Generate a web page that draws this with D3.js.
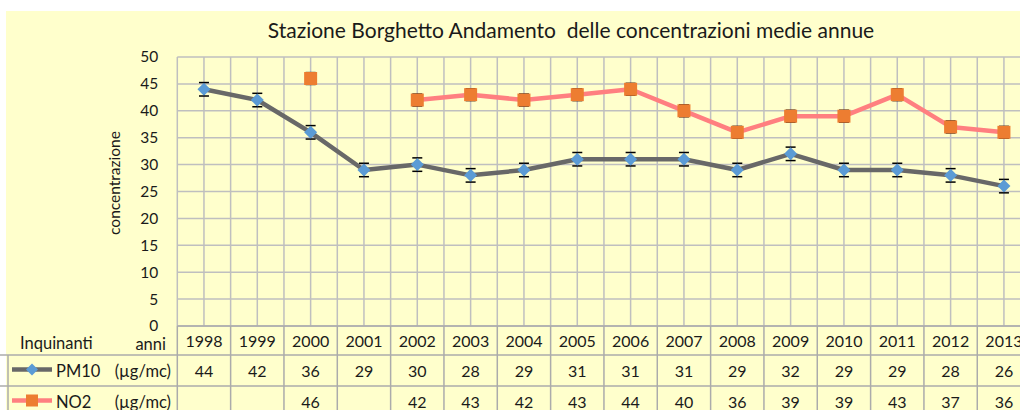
<!DOCTYPE html>
<html>
<head>
<meta charset="utf-8">
<script src="https://cdn.jsdelivr.net/npm/d3@7"></script>
<style>
body{margin:0;padding:0;background:#ffffff;}
svg{display:block;}
</style>
</head>
<body>
<div id="graphHolder"></div>
<script>
var years = ["1998","1999","2000","2001","2002","2003","2004","2005","2006","2007","2008","2009","2010","2011","2012","2013"];
var pm10 = [44,42,36,29,30,28,29,31,31,31,29,32,29,29,28,26];
var no2 = [null,null,46,null,42,43,42,43,44,40,36,39,39,43,37,36];
var pm10Err = 1.25;
var no2Err = 1.1;
var yTicks = [0,5,10,15,20,25,30,35,40,45,50];

var titleText = "Stazione Borghetto Andamento  delle concentrazioni medie annue";
var fontName = "Lato, 'Open Sans', sans-serif";

var W = 1020, H = 410;
var plotLeft = 177.3, plotRight = 1030.6, plotTop = 57, plotBottom = 326;
var rowHeader = 355, row1 = 386, row2 = 417;

var svg = d3.select("#graphHolder").append("svg")
	.attr("width",W)
	.attr("height",H);

svg.append("rect")
	.attr("x",0).attr("y",0).attr("width",W).attr("height",H)
	.style("fill","#ffffff");
svg.append("rect")
	.attr("x",6).attr("y",11).attr("width",W).attr("height",H)
	.style("fill","#FFFFCC");

var xscale = d3.scaleBand()
	.domain(years)
	.range([plotLeft,plotRight]);
var yscale = d3.scaleLinear()
	.domain([0,50])
	.range([plotBottom,plotTop]);
var bw = xscale.bandwidth();

// grid
var gridColor = "#BFBFBF";
svg.append("g").selectAll("line")
	.data(yTicks)
	.enter().append("line")
	.attr("x1",plotLeft).attr("x2",plotRight)
	.attr("y1",function(d){return yscale(d);})
	.attr("y2",function(d){return yscale(d);})
	.style("stroke",gridColor).style("stroke-width",1.5);

var halfs = [];
for (var i=0;i<=years.length*2;i++) halfs.push(i);
svg.append("g").selectAll("line")
	.data(halfs)
	.enter().append("line")
	.attr("x1",function(d){return plotLeft + d*bw/2;})
	.attr("x2",function(d){return plotLeft + d*bw/2;})
	.attr("y1",plotTop)
	.attr("y2",plotBottom)
	.style("stroke",gridColor).style("stroke-width",1.5);

// table lines
var tableColor = "#ABABAB";
var bounds = [];
for (var i=0;i<=years.length;i++) bounds.push(i);
svg.append("g").selectAll("line")
	.data(bounds)
	.enter().append("line")
	.attr("x1",function(d){return plotLeft + d*bw;})
	.attr("x2",function(d){return plotLeft + d*bw;})
	.attr("y1",plotBottom)
	.attr("y2",H)
	.style("stroke",tableColor).style("stroke-width",1.5);
svg.append("line")
	.attr("x1",plotLeft).attr("x2",W).attr("y1",plotBottom).attr("y2",plotBottom)
	.style("stroke",tableColor).style("stroke-width",1.5);
[rowHeader,row1].forEach(function(y){
	svg.append("line")
		.attr("x1",0).attr("x2",W).attr("y1",y).attr("y2",y)
		.style("stroke",tableColor).style("stroke-width",1.5);
});
svg.append("line")
	.attr("x1",8).attr("x2",8).attr("y1",rowHeader).attr("y2",H)
	.style("stroke",tableColor).style("stroke-width",1.5);

// axes
var y_axis = d3.axisLeft(yscale).tickValues(yTicks).tickSize(0).tickPadding(19);
var gy = svg.append("g")
	.attr("transform","translate("+plotLeft+",0)")
	.call(y_axis);
gy.select(".domain").remove();
gy.selectAll("text")
	.style("font-family",fontName)
	.style("font-size","15.5px")
	.style("fill","#1a1a1a");

var x_axis = d3.axisBottom(xscale).tickSize(0).tickPadding(10);
var gx = svg.append("g")
	.attr("transform","translate(0,"+plotBottom+")")
	.call(x_axis);
gx.select(".domain").remove();
gx.selectAll("text")
	.style("font-family",fontName)
	.style("font-size","16px")
	.style("fill","#1a1a1a");

// title & labels
svg.append("text")
	.text(titleText)
	.attr("x",571)
	.attr("y",38)
	.attr("text-anchor","middle")
	.style("font-family",fontName)
	.style("font-size","21px")
	.style("white-space","pre")
	.style("fill","#1a1a1a");

svg.append("text")
	.text("concentrazione")
	.attr("transform","translate(120,183) rotate(-90)")
	.attr("text-anchor","middle")
	.style("font-family",fontName)
	.style("font-size","15.5px")
	.style("fill","#1a1a1a");

svg.append("text").text("Inquinanti")
	.attr("x",20).attr("y",349)
	.style("font-family",fontName).style("font-size","16.5px").style("fill","#1a1a1a");
svg.append("text").text("anni")
	.attr("x",166).attr("y",350).attr("text-anchor","end")
	.style("font-family",fontName).style("font-size","16.5px").style("fill","#1a1a1a");

// series lines
var pmLine = d3.line()
	.x(function(d,i){return xscale(years[i])+bw/2;})
	.y(function(d){return yscale(d);});
var no2Line = d3.line()
	.defined(function(d){return d!=null;})
	.x(function(d,i){return xscale(years[i])+bw/2;})
	.y(function(d){return yscale(d);});

svg.append("path")
	.attr("d",no2Line(no2))
	.style("fill","none")
	.style("stroke","#FF7F80")
	.style("stroke-width",4.5)
	.style("stroke-linejoin","round");
svg.append("path")
	.attr("d",pmLine(pm10))
	.style("fill","none")
	.style("stroke","#686868")
	.style("stroke-width",4.5)
	.style("stroke-linejoin","round");

// error bars
function errBars(vals,err){
	var g = svg.append("g");
	vals.forEach(function(v,i){
		if (v==null) return;
		var cx = xscale(years[i])+bw/2;
		g.append("line")
			.attr("x1",cx).attr("x2",cx)
			.attr("y1",yscale(v+err)).attr("y2",yscale(v-err))
			.style("stroke","#000").style("stroke-width",1);
		[v+err,v-err].forEach(function(e){
			g.append("line")
				.attr("x1",cx-5).attr("x2",cx+5)
				.attr("y1",yscale(e)).attr("y2",yscale(e))
				.style("stroke","#000").style("stroke-width",1.5);
		});
	});
}
errBars(pm10,pm10Err);
errBars(no2,no2Err);

// markers
var diamond = function(cx,cy,r){
	return "M"+cx+","+(cy-r)+"L"+(cx+r)+","+cy+"L"+cx+","+(cy+r)+"L"+(cx-r)+","+cy+"Z";
};
svg.append("g").selectAll("path")
	.data(pm10)
	.enter().append("path")
	.attr("d",function(d,i){return diamond(xscale(years[i])+bw/2,yscale(d),6.5);})
	.style("fill","#5B9BD5");
svg.append("g").selectAll("rect")
	.data(no2.map(function(d,i){return {v:d,y:years[i]};}).filter(function(d){return d.v!=null;}))
	.enter().append("rect")
	.attr("x",function(d){return xscale(d.y)+bw/2-6.5;})
	.attr("y",function(d){return yscale(d.v)-6.5;})
	.attr("width",13).attr("height",13)
	.style("fill","#ED7D31");

// table rows
var rows = [
	{name:"PM10",vals:pm10,cy:(rowHeader+row1)/2,key:"pm"},
	{name:"NO2",vals:no2,cy:(row1+row2)/2,key:"no2"}
];
rows.forEach(function(r){
	var g = svg.append("g");
	g.selectAll("text.val")
		.data(r.vals)
		.enter().append("text")
		.attr("class","val")
		.text(function(d){return d==null ? "" : d;})
		.attr("x",function(d,i){return xscale(years[i])+bw/2;})
		.attr("y",r.cy+6)
		.attr("text-anchor","middle")
		.style("font-family",fontName).style("font-size","16px").style("fill","#1a1a1a");
	g.append("text").text(r.name)
		.attr("x",56).attr("y",r.cy+6)
		.style("font-family",fontName).style("font-size","16.5px").style("fill","#1a1a1a");
	g.append("text").text("(\u00B5g/mc)")
		.attr("x",171).attr("y",r.cy+6).attr("text-anchor","end")
		.style("font-family",fontName).style("font-size","16.5px").style("fill","#1a1a1a");
	if (r.key=="pm"){
		g.append("line").attr("x1",12).attr("x2",52).attr("y1",r.cy-1).attr("y2",r.cy-1)
			.style("stroke","#686868").style("stroke-width",4.5);
		g.append("path").attr("d",diamond(32,r.cy-1,6)).style("fill","#5B9BD5");
	} else {
		g.append("line").attr("x1",12).attr("x2",52).attr("y1",r.cy-1).attr("y2",r.cy-1)
			.style("stroke","#FF7F80").style("stroke-width",4.5);
		g.append("rect").attr("x",26).attr("y",r.cy-7).attr("width",12).attr("height",12)
			.style("fill","#ED7D31");
	}
});
</script>
</body>
</html>
